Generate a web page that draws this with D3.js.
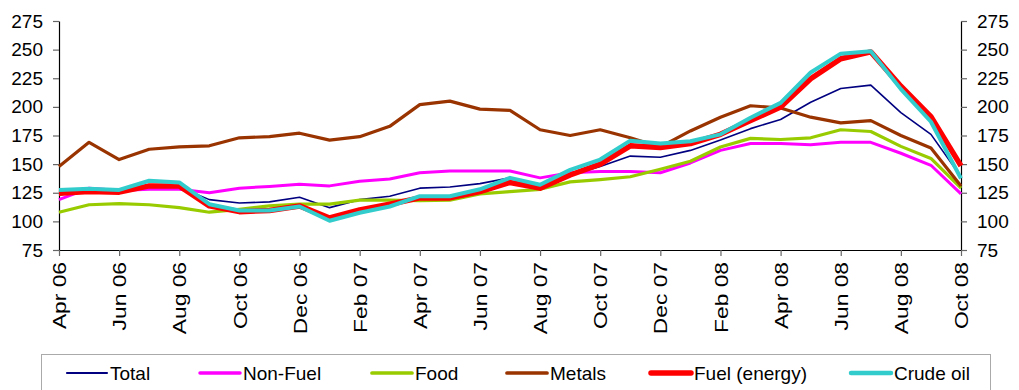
<!DOCTYPE html>
<html>
<head>
<meta charset="utf-8">
<script src="https://cdn.jsdelivr.net/npm/d3@7"></script>
<style>
  html, body { margin: 0; padding: 0; background: #fff; }
  svg { display: block; font-family: "Liberation Sans", Arial, sans-serif; }
</style>
</head>
<body>
<svg id="chart" width="1019" height="390"></svg>
<script>
// Monthly commodity price indices, Apr 2006 – Oct 2008
const months = ["Apr 06","May 06","Jun 06","Jul 06","Aug 06","Sep 06","Oct 06","Nov 06","Dec 06",
  "Jan 07","Feb 07","Mar 07","Apr 07","May 07","Jun 07","Jul 07","Aug 07","Sep 07","Oct 07","Nov 07","Dec 07",
  "Jan 08","Feb 08","Mar 08","Apr 08","May 08","Jun 08","Jul 08","Aug 08","Sep 08","Oct 08"];
const xTickLabels = ["Apr 06","Jun 06","Aug 06","Oct 06","Dec 06","Feb 07","Apr 07","Jun 07",
  "Aug 07","Oct 07","Dec 07","Feb 08","Apr 08","Jun 08","Aug 08","Oct 08"];
const yTicks = [75, 100, 125, 150, 175, 200, 225, 250, 275];

const total   = [123,127,126,130,130,119,116,117,121,112,119,122,129,130,133,138,132,140,148,157,156,162,171,181,189,204,216,219,195,176,139];
const nonFuel = [119,129,127,128,128,125,129,130.5,132.5,131,135,137,142.5,144,144,144,138,142.5,143.5,143.5,142.5,151,162,168,168,167,169,169,159.5,149,124];
const food    = [108,114.5,115.5,114.5,112,108,110.5,113.5,115,115,118.5,118.5,118,118.5,124,126,128,134.5,136.5,139,145.5,152.5,165,172.5,171.5,173,180,178.5,165.5,155,129];
const metals  = [148,169,154,163,165,166,173,174,177,171,174,183,202,205,198,197,180,175,180,173,165,179,191,201,199,191,186,188,175,164,131];
const fuel    = [124.5,126,125.5,131,131,113.5,108.5,109.5,113.5,103,110,115,120.5,120.5,126,134,129,140.5,150,166,164.5,168,176,188,200,224.5,242,248,218,191.5,148.5];
const crude   = [127.5,128.5,127.5,135.5,134,115,109.5,109.5,113,100.5,107.5,113,122,122,128,138,132,145,154,170.5,168,170,176,190.5,203.5,230,246.5,248.5,215.5,187,137.5];

const seriesNames = ["Total","Non-Fuel","Food","Metals","Fuel (energy)","Crude oil"];
const seriesValues = [total, nonFuel, food, metals, fuel, crude];
const seriesColors = ["#000080","#FF00FF","#99CC00","#993300","#FF0000","#33CCCC"];
const seriesWidths = [1.6, 3, 3.2, 3.2, 5.5, 4];

const svg = d3.select("#chart");
const plotLeft = 59, plotRight = 961, plotTop = 21, plotBottom = 250;

const x = d3.scaleLinear().domain([0, months.length - 1]).range([plotLeft, plotRight]);
const y = d3.scaleLinear().domain([75, 275]).range([plotBottom, plotTop]);

// left value axis
const yAxisL = svg.append("g").attr("transform", `translate(${plotLeft},0)`)
  .call(d3.axisLeft(y).tickValues(yTicks).tickSize(6).tickPadding(10).tickSizeOuter(0));
// right value axis
const yAxisR = svg.append("g").attr("transform", `translate(${plotRight},0)`)
  .call(d3.axisRight(y).tickValues(yTicks).tickSize(6).tickPadding(10).tickSizeOuter(0));

// category axis with a tick every second month; labels run bottom-to-top
const tickIdx = xTickLabels.map(l => months.indexOf(l));
const xAxis = svg.append("g").attr("transform", `translate(0,${plotBottom})`)
  .call(d3.axisBottom(x).tickValues(tickIdx).tickFormat(i => months[i]).tickSize(6).tickSizeOuter(0));
xAxis.selectAll("text")
  .attr("transform", "rotate(-90) scale(1.2,1)")
  .attr("text-anchor", "end")
  .attr("x", -10)
  .attr("y", 0)
  .attr("dy", "0.35em");

[yAxisL, yAxisR, xAxis].forEach(g => {
  g.select(".domain").attr("stroke", "#000").attr("stroke-width", 1.2);
  g.selectAll(".tick line").attr("stroke", "#666").attr("stroke-width", 1.2);
  g.selectAll("text").attr("font-size", 19).attr("fill", "#000")
    .attr("font-family", "'Liberation Sans', Arial, sans-serif");
});

// series lines
const line = d3.line().x((d, i) => x(i)).y(d => y(d));
svg.append("g").selectAll("path")
  .data(seriesValues)
  .join("path")
  .attr("d", line)
  .attr("fill", "none")
  .attr("stroke", (d, i) => seriesColors[i])
  .attr("stroke-width", (d, i) => seriesWidths[i])
  .attr("stroke-linejoin", "round");

// legend
const legend = svg.append("g");
legend.append("rect")
  .attr("x", 41.5).attr("y", 354.5).attr("width", 949).attr("height", 60)
  .attr("fill", "#fff").attr("stroke", "#aaa").attr("stroke-width", 1);
const legendX = [67, 200, 372, 507, 651, 851];
const items = legend.selectAll("g.item")
  .data(seriesNames)
  .join("g").attr("class", "item")
  .attr("transform", (d, i) => `translate(${legendX[i]},373)`);
items.append("line")
  .attr("x1", 0).attr("x2", 40).attr("y1", 0).attr("y2", 0)
  .attr("stroke", (d, i) => seriesColors[i])
  .attr("stroke-width", (d, i) => Math.min(seriesWidths[i] + 0.5, 5.5))
  .attr("stroke-linecap", "round");
items.append("text")
  .attr("x", 43).attr("y", 0).attr("dy", "0.35em")
  .attr("font-size", 19).attr("fill", "#000")
  .text(d => d);
</script>
</body>
</html>
